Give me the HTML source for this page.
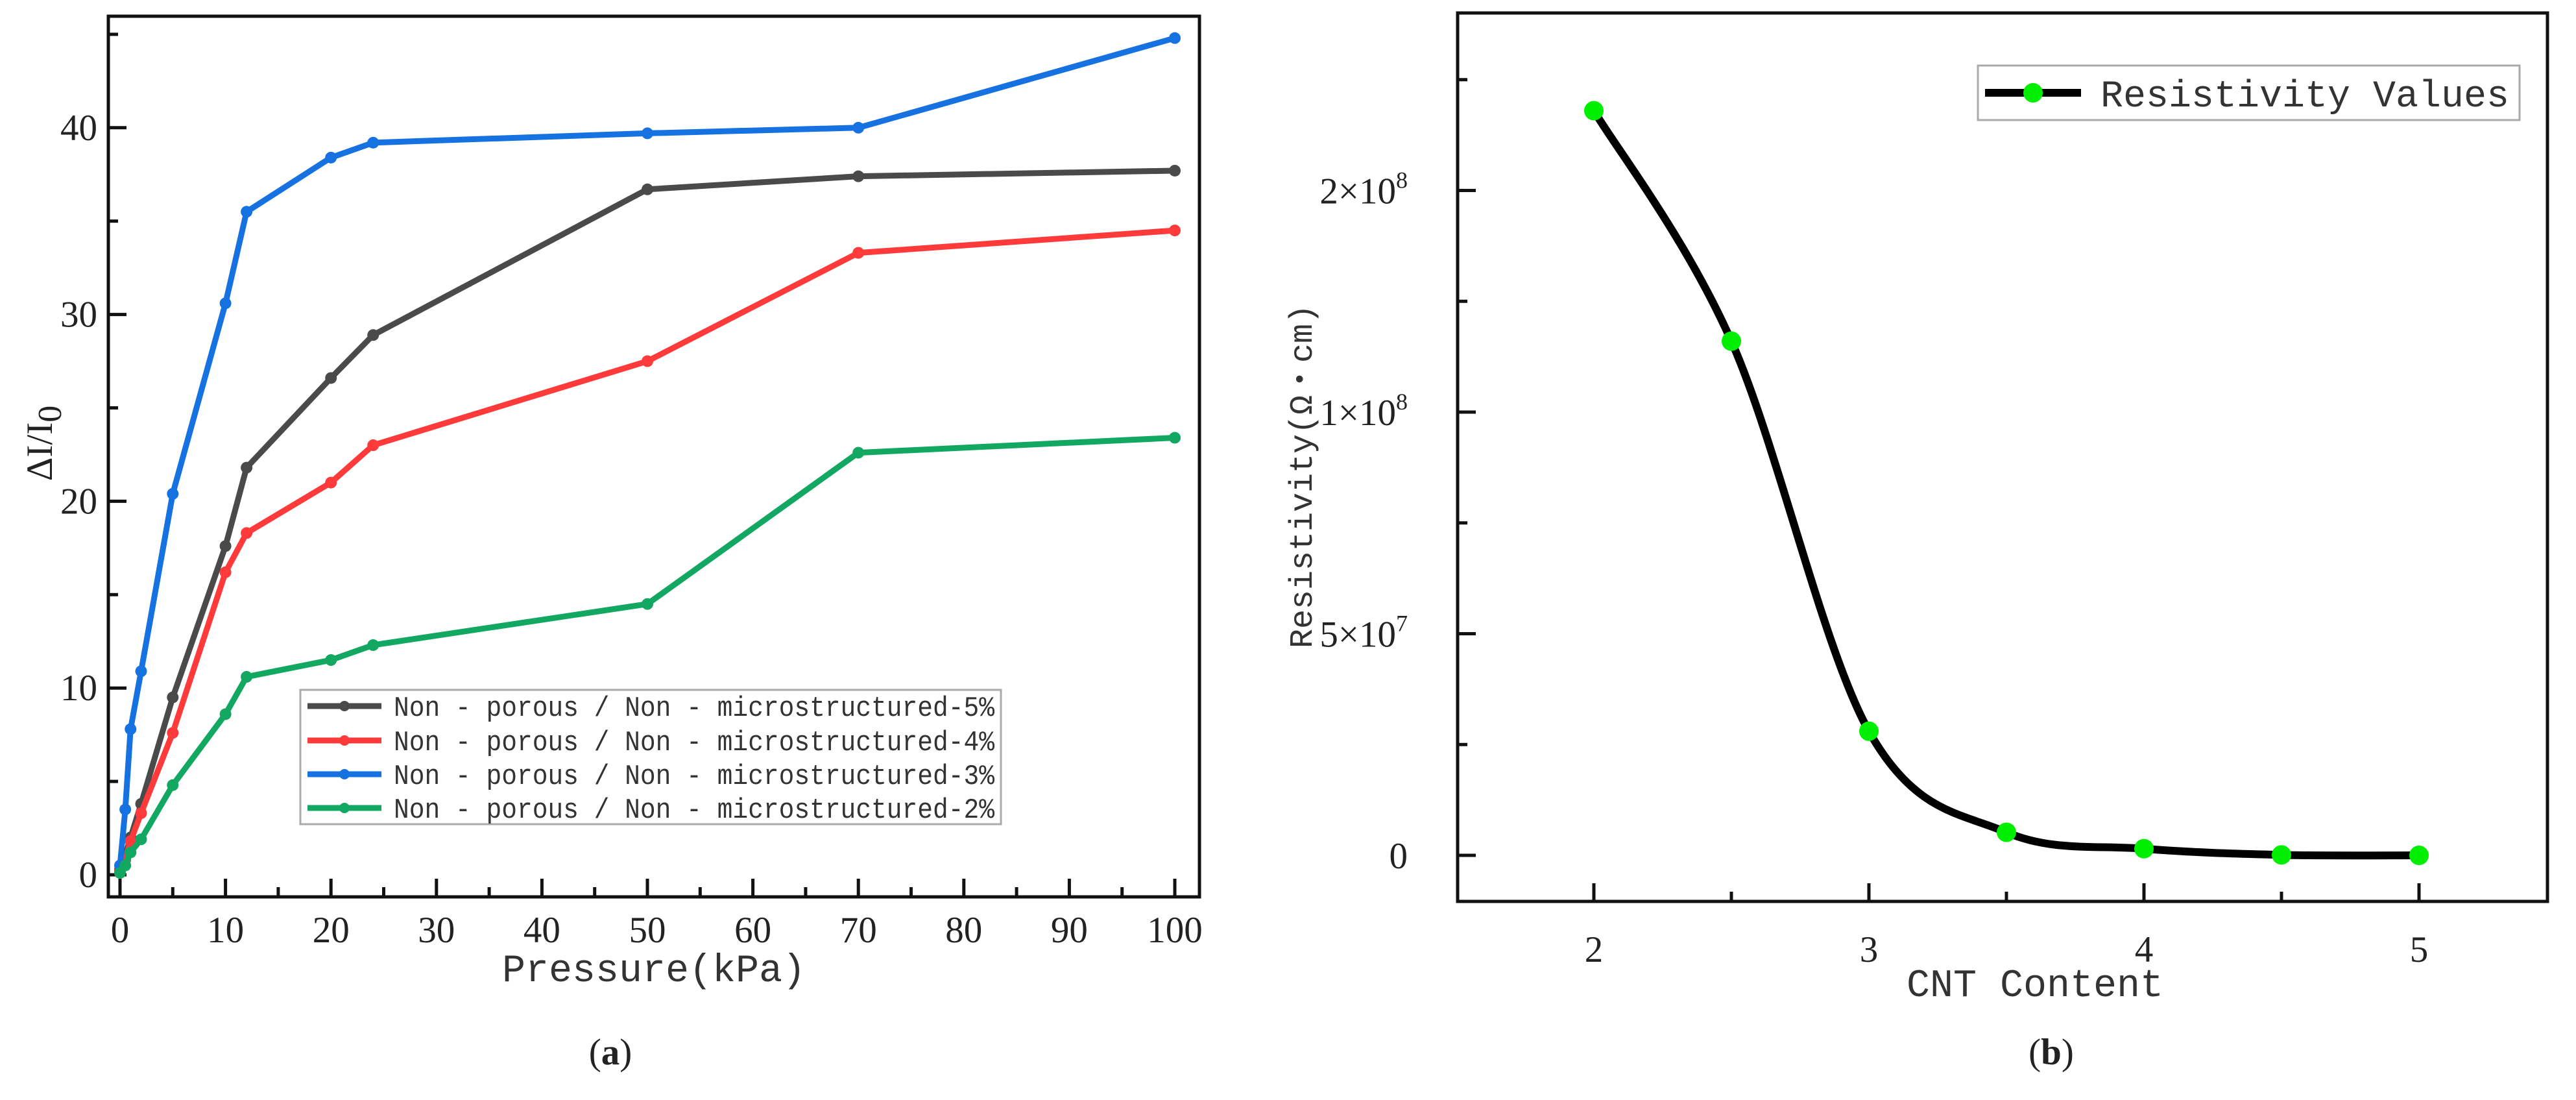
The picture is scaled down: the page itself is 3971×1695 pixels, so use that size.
<!DOCTYPE html>
<html><head><meta charset="utf-8"><style>
html,body{margin:0;padding:0;background:#fff;width:3971px;height:1695px;overflow:hidden}
svg{display:block}
.tk{font-family:"Liberation Serif",serif;font-size:57px;fill:#222}
.mono{font-family:"Liberation Mono","Noto Sans CJK SC",monospace;fill:#333}
</style></head><body>
<svg id="fig" width="3971" height="1695" viewBox="0 0 3971 1695" xmlns="http://www.w3.org/2000/svg">
<g id="pa"></g>
<g id="pb"></g>
</svg>
<script>
const pressure=[0,0.5,1,2,5,10,12,20,24,50,70,100];
const s5=[0.3,1,2,3.8,9.5,17.6,21.8,26.6,28.9,36.7,37.4,37.7];
const s4=[0.2,0.8,1.8,3.3,7.6,16.2,18.3,21,23,27.5,33.3,34.5];
const s3=[0.5,3.5,7.8,10.9,20.4,30.6,35.5,38.4,39.2,39.7,40,44.8];
const s2=[0.1,0.5,1.2,1.9,4.8,8.6,10.6,11.5,12.3,14.5,22.6,23.4];
const seriesNames=["Non - porous / Non - microstructured-5%","Non - porous / Non - microstructured-4%","Non - porous / Non - microstructured-3%","Non - porous / Non - microstructured-2%"];
const xTicksA=[0,10,20,30,40,50,60,70,80,90,100];
const yTicksA=[0,10,20,30,40];
const cnt=[2,2.5,3,3.5,4,4.5,5];
const resist=[1.68e8,1.16e8,2.8e7,5.2e6,1.5e6,1e5,0];
const xTicksB=[2,3,4,5];
const yTicksB=[0,5e7,1e8,1.5e8];
const yTickLabelsB=[["0",""],["5×10","7"],["1×10","8"],["2×10","8"]];

const NS="http://www.w3.org/2000/svg";
function mk(p,tag,at,txt){const e=document.createElementNS(NS,tag);for(const k in at)e.setAttribute(k,at[k]);if(txt!==undefined)e.textContent=txt;p.appendChild(e);return e;}

// ---------- Chart A ----------
const A=document.getElementById('pa');
const ax=v=>185+v*16.26, ay=v=>1348-v*28.78;
const fa={x1:167,y1:25,x2:1849,y2:1382};
let e;
e=mk(A,'rect',{x:fa.x1,y:fa.y1,width:fa.x2-fa.x1,height:fa.y2-fa.y1,fill:'none',stroke:'#111','stroke-width':5});

for(let v=0;v<=100;v+=5){const maj=v%10===0;
 e=mk(A,'line',{x1:ax(v),x2:ax(v),y1:fa.y2,y2:fa.y2-(maj?28:15),stroke:'#111','stroke-width':5});
 }
for(let v=0;v<=45;v+=5){const maj=v%10===0;
 e=mk(A,'line',{x1:fa.x1,x2:fa.x1+(maj?28:15),y1:ay(v),y2:ay(v),stroke:'#111','stroke-width':5});
 }
xTicksA.forEach(v=>{e=mk(A,'text',{x:ax(v),y:1452,'text-anchor':'middle',class:'tk'},String(v));
 });
yTicksA.forEach(v=>{e=mk(A,'text',{x:150,y:ay(v)+19,'text-anchor':'end',class:'tk'},String(v));
 });
e=mk(A,'text',{x:1008,y:1512,'text-anchor':'middle',class:'mono','font-size':60},'Pressure(kPa)');

e=mk(A,'text',{x:0,y:0,'text-anchor':'middle',class:'tk','font-size':78,transform:'translate(80,683) rotate(-90)'});

e.innerHTML='ΔI/I<tspan font-size="52" dy="14">0</tspan>';
const colors=['#4a4a4a','#ff3a3a','#1572e0','#12a862'];
const data=[s5,s4,s3,s2];
data.forEach((s,i)=>{
 const pts=pressure.map((p,j)=>ax(p)+','+ay(s[j])).join(' ');
 const g=mk(A,'g',{});
 e=mk(g,'polyline',{points:pts,fill:'none',stroke:colors[i],'stroke-width':9,'stroke-linejoin':'round'});
 
 pressure.forEach((p,j)=>{e=mk(g,'circle',{cx:ax(p),cy:ay(s[j]),r:9,fill:colors[i]});
  });
});
const lg=mk(A,'g',{});
e=mk(lg,'rect',{x:463,y:1063,width:1080,height:207,fill:'#fff',stroke:'#aaa','stroke-width':3});

const rows=[1088,1141,1193,1245];
seriesNames.forEach((n,i)=>{
 const g=mk(lg,'g',{});
 mk(g,'line',{x1:474,x2:588,y1:rows[i],y2:rows[i],stroke:colors[i],'stroke-width':9});
 mk(g,'circle',{cx:531,cy:rows[i],r:8,fill:colors[i]});
 e=mk(g,'text',{x:607,y:rows[i]+15,class:'mono','font-size':44,textLength:926,lengthAdjust:'spacingAndGlyphs'},n);
});
e=mk(A,'text',{x:941,y:1640,'text-anchor':'middle',class:'tk','font-size':80},'');

e.innerHTML='(<tspan font-weight="bold">a</tspan>)';

// ---------- Chart B ----------
const B=document.getElementById('pb');
const bx=v=>2457+(v-2)*424, by=v=>1318-v/5e7*341.5;
const fb={x1:2247,y1:20,x2:3927,y2:1389};
e=mk(B,'rect',{x:fb.x1,y:fb.y1,width:fb.x2-fb.x1,height:fb.y2-fb.y1,fill:'none',stroke:'#111','stroke-width':5});

for(let v=2;v<=5;v+=0.5){const maj=Number.isInteger(v);
 e=mk(B,'line',{x1:bx(v),x2:bx(v),y1:fb.y2,y2:fb.y2-(maj?28:15),stroke:'#111','stroke-width':5});
 }
for(let v=0;v<=1.75e8;v+=2.5e7){const maj=(v/2.5e7)%2===0;
 e=mk(B,'line',{x1:fb.x1,x2:fb.x1+(maj?28:15),y1:by(v),y2:by(v),stroke:'#111','stroke-width':5});
 }
xTicksB.forEach(v=>{e=mk(B,'text',{x:bx(v),y:1482,'text-anchor':'middle',class:'tk'},String(v));
 });
yTicksB.forEach((v,i)=>{e=mk(B,'text',{x:2170,y:by(v)+20,'text-anchor':'end',class:'tk'},'');
 e.innerHTML=yTickLabelsB[i][0]+(yTickLabelsB[i][1]?'<tspan font-size="36" dy="-24">'+yTickLabelsB[i][1]+'</tspan>':'');
 });
e=mk(B,'text',{x:3137,y:1535,'text-anchor':'middle',class:'mono','font-size':60},'CNT Content');

e=mk(B,'text',{x:0,y:0,'text-anchor':'middle',class:'mono','font-size':50,transform:'translate(2022,734) rotate(-90)'},'Resistivity(Ω・cm)');

// smooth line (Catmull-Rom)
const P=cnt.map((c,i)=>[bx(c),by(resist[i])]);
let d='M'+P[0][0]+','+P[0][1];
for(let i=0;i<P.length-1;i++){const p0=P[Math.max(0,i-1)],p1=P[i],p2=P[i+1],p3=P[Math.min(P.length-1,i+2)];
 const c1=[p1[0]+(p2[0]-p0[0])/6,p1[1]+(p2[1]-p0[1])/6],c2=[p2[0]-(p3[0]-p1[0])/6,p2[1]-(p3[1]-p1[1])/6];
 d+=' C'+c1+' '+c2+' '+p2;}
e=mk(B,'path',{d:d,fill:'none',stroke:'#000','stroke-width':12,'stroke-linejoin':'round'});

P.forEach(p=>{e=mk(B,'circle',{cx:p[0],cy:p[1],r:15,fill:'#00ee00'});
 });
const lb=mk(B,'g',{});
mk(lb,'rect',{x:3049,y:101,width:835,height:84,fill:'#fff',stroke:'#aaa','stroke-width':3});
mk(lb,'line',{x1:3060,x2:3208,y1:143,y2:143,stroke:'#000','stroke-width':12});
mk(lb,'circle',{cx:3134,cy:143,r:15,fill:'#00ee00'});
e=mk(lb,'text',{x:3238,y:164,class:'mono','font-size':58,textLength:630,lengthAdjust:'spacingAndGlyphs'},'Resistivity Values');

e=mk(B,'text',{x:3162,y:1640,'text-anchor':'middle',class:'tk','font-size':80},'');

e.innerHTML='(<tspan font-weight="bold">b</tspan>)';
</script>
</body></html>
